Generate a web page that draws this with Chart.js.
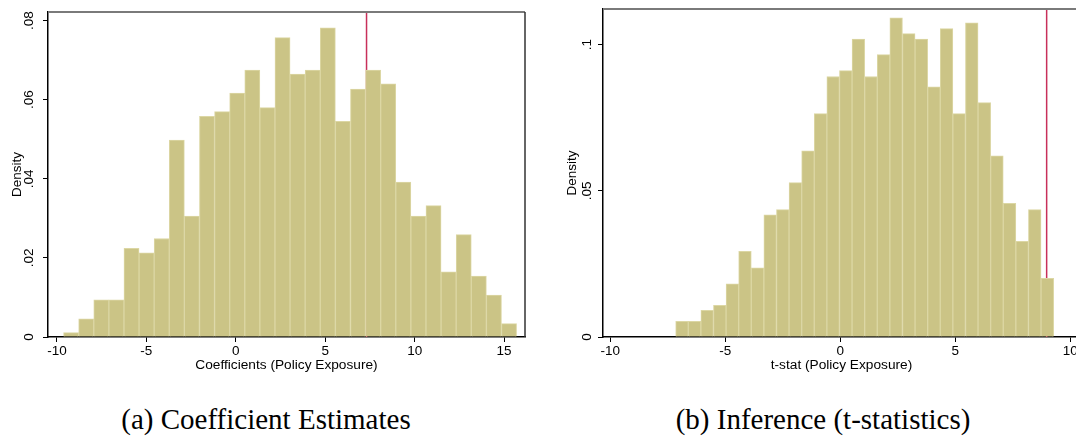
<!DOCTYPE html>
<html>
<head>
<meta charset="utf-8">
<script src="https://cdn.jsdelivr.net/npm/chart.js@4.4.1/dist/chart.umd.min.js"></script>
<style>
  html, body { margin: 0; padding: 0; background: #fff; width: 1076px; height: 439px; overflow: hidden; }
  #wrap { position: relative; width: 1076px; height: 439px; overflow: hidden; }
  canvas { position: absolute; top: 0; }
  #coefChart { left: 0; }
  #tstatChart { left: 555px; }
  .caption { position: absolute; top: 403px; font-family: 'Liberation Serif', 'Times New Roman', serif; font-size: 29px; color: #000; transform: translateX(-50%); white-space: nowrap; }
</style>
</head>
<body>
<div id="wrap">
  <canvas id="coefChart" width="540" height="380"></canvas>
  <canvas id="tstatChart" width="540" height="380"></canvas>
  <div class="caption" style="left: 266px;">(a) Coefficient Estimates</div>
  <div class="caption" style="left: 823px;">(b) Inference (t-statistics)</div>
</div>
<script>
// (a) coefficient estimates: 30 bins
var coefBinStart = -9.63;
var coefBinWidth = 0.8443;
var coefDensity = [
    0.0011, 0.0046, 0.0094, 0.0094, 0.0224, 0.0213, 0.0249, 0.0498, 0.0306, 0.0558,
    0.0570, 0.0617, 0.0675, 0.0580, 0.0757, 0.0665, 0.0675, 0.0782, 0.0545, 0.0627,
    0.0675, 0.0640, 0.0392, 0.0306, 0.0332, 0.0165, 0.0259, 0.0154, 0.0106, 0.0034
];
var coefActual = 7.31;
var coefXTicks = [-10, -5, 0, 5, 10, 15];
var coefXLabels = ['-10', '-5', '0', '5', '10', '15'];
var coefYTicks = [0, 0.02, 0.04, 0.06, 0.08];
var coefYLabels = ['0', '.02', '.04', '.06', '.08'];

// (b) t-statistics: 30 bins
var tBinStart = -7.16;
var tBinWidth = 0.5478;
var tDensity = [
    0.0054, 0.0054, 0.0091, 0.0108, 0.0182, 0.0293, 0.0237, 0.0418, 0.0436, 0.0528,
    0.0637, 0.0764, 0.0891, 0.0911, 0.1019, 0.0891, 0.0966, 0.1092, 0.1038, 0.1019,
    0.0856, 0.1055, 0.0764, 0.1075, 0.0802, 0.0620, 0.0457, 0.0327, 0.0436, 0.0201
];
var tActual = 8.97;
var tXTicks = [-10, -5, 0, 5, 10];
var tXLabels = ['-10', '-5', '0', '5', '10'];
var tYTicks = [0, 0.05, 0.1];
var tYLabels = ['0', '.05', '.1'];

var barFill = '#cbc486';
var barEdge = '#dcd7a4';
var lineRed = '#c8305a';
var fontFam = "'Liberation Sans', Arial, sans-serif";

// top and right border of the plot region
var framePlugin = {
    id: 'frame',
    afterDraw: function(chart) {
        var a = chart.chartArea;
        var ctx = chart.ctx;
        ctx.save();
        ctx.strokeStyle = '#7a7a7a';
        ctx.lineWidth = 2;
        ctx.beginPath();
        ctx.moveTo(a.left, a.top);
        ctx.lineTo(a.right, a.top);
        ctx.stroke();
        ctx.strokeStyle = '#333';
        ctx.lineWidth = 1.5;
        ctx.beginPath();
        ctx.moveTo(a.right, a.top);
        ctx.lineTo(a.right, a.bottom);
        ctx.stroke();
        ctx.restore();
    }
};

function makeHist(canvasId, binStart, binWidth, density, actual, xMin, xMax, yMax,
                  xTicks, xLabels, yTicks, yLabels, xTitle, yPad) {
    var bars = density.map(function(d, i) {
        return { x: binStart + (i + 0.5) * binWidth, y: d };
    });

    return new Chart(document.getElementById(canvasId).getContext('2d'), {
        type: 'bar',
        data: {
            datasets: [{
                type: 'bar',
                data: bars,
                backgroundColor: barFill,
                borderColor: barEdge,
                borderWidth: 1,
                borderSkipped: 'start',
                barPercentage: 1,
                categoryPercentage: 1,
                order: 1
            }, {
                type: 'line',
                data: [{ x: actual, y: 0 }, { x: actual, y: yMax }],
                borderColor: lineRed,
                borderWidth: 1.5,
                pointRadius: 0,
                order: 2
            }]
        },
        options: {
            responsive: false,
            animation: false,
            devicePixelRatio: 1,
            layout: { padding: { top: 9, right: 15, left: 0, bottom: 0 } },
            plugins: { legend: { display: false }, tooltip: { enabled: false } },
            scales: {
                x: {
                    type: 'linear',
                    min: xMin,
                    max: xMax,
                    offset: false,
                    afterBuildTicks: function(scale) {
                        scale.ticks = xTicks.map(function(v) { return { value: v }; });
                    },
                    afterFit: function(scale) { scale.height = 43; },
                    ticks: {
                        color: '#000',
                        font: { family: fontFam, size: 13.5 },
                        padding: 1,
                        maxRotation: 0,
                        callback: function(v) { return xLabels[xTicks.indexOf(v)]; }
                    },
                    grid: { drawOnChartArea: false, offset: false, tickLength: 5, color: '#000' },
                    border: { color: '#000', width: 1.5 },
                    title: {
                        display: true,
                        text: xTitle,
                        color: '#000',
                        font: { family: fontFam, size: 13.7 },
                        padding: { top: 0, bottom: 7 }
                    }
                },
                y: {
                    min: 0,
                    max: yMax,
                    afterBuildTicks: function(scale) {
                        scale.ticks = yTicks.map(function(v) { return { value: v }; });
                    },
                    afterFit: function(scale) { scale.width = 48; },
                    ticks: {
                        color: '#000',
                        font: { family: fontFam, size: 13.5 },
                        padding: yPad,
                        minRotation: 90,
                        maxRotation: 90,
                        crossAlign: 'center',
                        callback: function(v) { return yLabels[yTicks.indexOf(v)]; }
                    },
                    grid: { drawOnChartArea: false, tickLength: 5, color: '#000' },
                    border: { color: '#000', width: 1.5 },
                    title: {
                        display: true,
                        text: 'Density',
                        color: '#000',
                        font: { family: fontFam, size: 13.5 },
                        padding: { top: 9, bottom: 0 }
                    }
                }
            }
        },
        plugins: [framePlugin]
    });
}

makeHist('coefChart', coefBinStart, coefBinWidth, coefDensity, coefActual,
         -10.5, 16.17, 0.08215, coefXTicks, coefXLabels, coefYTicks, coefYLabels,
         'Coefficients (Policy Exposure)', 4);

makeHist('tstatChart', tBinStart, tBinWidth, tDensity, tActual,
         -10.32, 10.42, 0.11217, tXTicks, tXLabels, tYTicks, tYLabels,
         't-stat (Policy Exposure)', 1);
</script>
</body>
</html>
